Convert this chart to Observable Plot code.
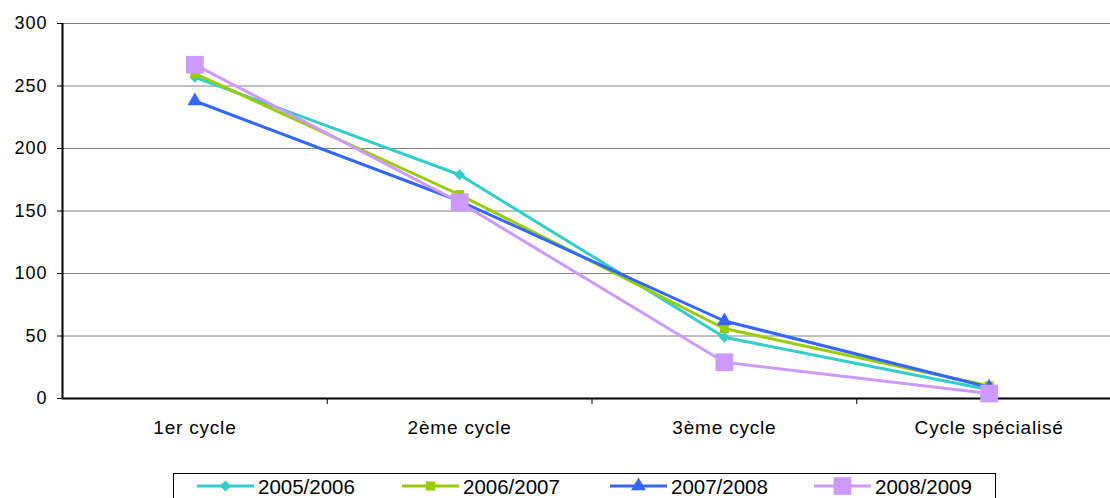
<!DOCTYPE html>
<html><head><meta charset="utf-8">
<script src="https://cdn.jsdelivr.net/npm/d3@7"></script>
<script src="https://cdn.jsdelivr.net/npm/@observablehq/plot@0.6"></script>
<style>
body{margin:0;overflow:hidden;background:#fff;font-family:"Liberation Sans",Arial,sans-serif;}
#wrap{position:relative;width:1110px;height:498px;overflow:hidden;}
#chart{position:absolute;left:0;top:0;}
#chart svg{max-width:none !important;}
#legend{position:absolute;left:0;top:0;}
[aria-label="y-axis tick label"]{font-size:18px;letter-spacing:1px;}
[aria-label="x-axis tick label"]{font-size:19px;letter-spacing:0.8px;}
</style>
</head><body>
<div id="wrap"><div id="chart"></div><svg id="legend" width="1110" height="498"></svg></div>
<script>
const categories = ["1er cycle", "2ème cycle", "3ème cycle", "Cycle spécialisé"];
const seriesNames = ["2005/2006", "2006/2007", "2007/2008", "2008/2009"];
const values2005 = [257, 179, 49, 7];
const values2006 = [260, 163, 56, 10];
const values2007 = [238, 158, 62, 9];
const values2008 = [267, 157, 29, 4];
const yTicks = [0, 50, 100, 150, 200, 250, 300];

const allValues = [values2005, values2006, values2007, values2008];
const colors = ["#33CCCC", "#99CC00", "#3366FF", "#CC99FF"];
const symbols = ["diamond2", "square", "triangle", "square"];
const radii = [5, 5.2, 5.5, 10];

const data = seriesNames.map((s, k) => allValues[k].map((v, i) => ({series: s, x: i + 0.5, v})));

const marks = [
  Plot.ruleY(yTicks.slice(1), {stroke: "#808080", strokeWidth: 1}),
  Plot.axisY({ticks: yTicks, tickSize: 5, tickPadding: 10, fontSize: 18, label: null, stroke: "#000"}),
  Plot.axisX({ticks: categories.map((c, i) => i + 0.5), tickFormat: d => categories[Math.floor(d)], tickSize: 0, tickPadding: 22, fontSize: 19, label: null}),
  Plot.axisX({ticks: [1, 2, 3], tickSize: 6, tickFormat: () => "", label: null, stroke: "#000"}),
  Plot.ruleX([0], {stroke: "#000", strokeWidth: 2}),
  Plot.ruleY([0], {stroke: "#000", strokeWidth: 2})
];
data.forEach((d, k) => {
  marks.push(Plot.line(d, {x: "x", y: "v", stroke: colors[k], strokeWidth: 3}));
});
data.forEach((d, k) => {
  marks.push(Plot.dot(d, {x: "x", y: "v", symbol: symbols[k], r: radii[k], fill: colors[k], stroke: "none"}));
});

const chart = Plot.plot({
  width: 1122,
  height: 460,
  marginLeft: 62,
  marginRight: 1,
  marginTop: 23,
  marginBottom: 62,
  x: {type: "linear", domain: [0, 4]},
  y: {domain: [0, 300]},
  style: {fontFamily: "'Liberation Sans', Arial, sans-serif", color: "#000", background: "#fff", maxWidth: "none"},
  marks
});
chart.style.maxWidth = "none";
document.getElementById("chart").appendChild(chart);

// Legend
const lg = d3.select("#legend");
lg.append("rect").attr("x", 173.5).attr("y", 473.5).attr("width", 822).attr("height", 40)
  .attr("fill", "#fff").attr("stroke", "#000").attr("stroke-width", 1);
const d3sym = {diamond2: d3.symbolDiamond2, square: d3.symbolSquare, triangle: d3.symbolTriangle};
const itemX = [197, 402, 610, 814];
seriesNames.forEach((s, k) => {
  const x0 = itemX[k], cy = 486;
  const g = lg.append("g");
  g.append("line").attr("x1", x0).attr("x2", x0 + 57).attr("y1", cy).attr("y2", cy)
    .attr("stroke", colors[k]).attr("stroke-width", 3);
  g.append("path").attr("transform", `translate(${x0 + 28.5},${cy})`)
    .attr("d", d3.symbol(d3sym[symbols[k]], Math.PI * radii[k] * radii[k])())
    .attr("fill", colors[k]);
  g.append("text").attr("x", x0 + 61).attr("y", cy + 7.5).attr("font-size", 20.5)
    .attr("font-family", "'Liberation Sans', Arial, sans-serif").attr("fill", "#000").text(s);
});
</script>
</body></html>
